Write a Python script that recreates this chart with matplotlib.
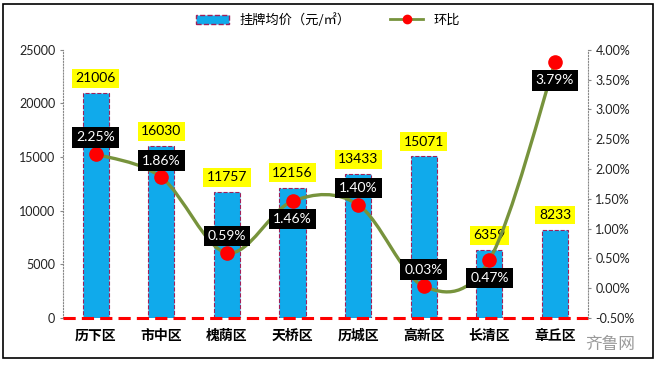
import matplotlib
matplotlib.use("Agg")
import matplotlib.pyplot as plt
from matplotlib.path import Path
from matplotlib.patches import PathPatch, Patch, Rectangle
from matplotlib.lines import Line2D
from matplotlib.ticker import FuncFormatter

plt.rcParams['font.family'] = ['Lato', 'Noto Sans CJK SC', 'DejaVu Sans']

districts = ['历下区', '市中区', '槐荫区', '天桥区', '历城区', '高新区', '长清区', '章丘区']
price = [21006, 16030, 11757, 12156, 13433, 15071, 6359, 8233]
mom = [2.25, 1.86, 0.59, 1.46, 1.40, 0.03, 0.47, 3.79]
label_up = [True, True, True, False, True, True, False, False]

bar_color = '#10AAEB'
line_color = '#77933C'

fig = plt.figure(figsize=(6.56, 3.67), dpi=100)
ax1 = fig.add_axes([0.096, 0.134, 0.800, 0.730])
ax2 = ax1.twinx()

x = list(range(len(districts)))
ax1.bar(x, price, width=0.4, color=bar_color, edgecolor='#A0205A',
        linestyle='--', linewidth=0.8, zorder=2)
ax1.set_xlim(-0.5, len(districts) - 0.5)
ax1.set_ylim(0, 25000)
ax1.set_yticks(range(0, 25001, 5000))
ax1.axhline(0, color='red', lw=2.2, ls=(0, (4, 2)), zorder=3, clip_on=False)

for xi, v in zip(x, price):
    ax1.annotate(str(v), (xi, v), xytext=(0, 10.5), textcoords='offset points',
                 ha='center', va='center', fontsize=10,
                 bbox=dict(boxstyle='square,pad=0.25', fc='#FFFF00', ec='none'))

# smooth line (Excel-style) via cubic bezier segments through the data points
verts = [(x[0], mom[0])]
codes = [Path.MOVETO]
n = len(mom)
for i in range(n - 1):
    p0 = (x[i - 1], mom[i - 1]) if i > 0 else (x[i], mom[i])
    p1 = (x[i], mom[i])
    p2 = (x[i + 1], mom[i + 1])
    p3 = (x[i + 2], mom[i + 2]) if i + 2 < n else p2
    c1 = (p1[0] + (p2[0] - p0[0]) / 6, p1[1] + (p2[1] - p0[1]) / 6)
    c2 = (p2[0] - (p3[0] - p1[0]) / 6, p2[1] - (p3[1] - p1[1]) / 6)
    verts += [c1, c2, p2]
    codes += [Path.CURVE4] * 3
ax2.add_patch(PathPatch(Path(verts, codes), fc='none', ec=line_color, lw=2.4, zorder=3))
ax2.plot(x, mom, 'o', color='red', ms=9.5, zorder=4)
ax2.set_ylim(-0.5, 4.0)
ax2.set_yticks([i * 0.5 - 0.5 for i in range(10)])
ax2.yaxis.set_major_formatter(FuncFormatter(lambda v, p: f'{v:.2f}%'))

for xi, v, up in zip(x, mom, label_up):
    ax2.annotate(f'{v:.2f}%', (xi, v), xytext=(0, 12 if up else -13),
                 textcoords='offset points', ha='center', va='center',
                 fontsize=10, color='white',
                 bbox=dict(boxstyle='square,pad=0.3', fc='black', ec='none'), zorder=5)

for ax in (ax1, ax2):
    ax.spines['top'].set_visible(False)
    ax.spines['bottom'].set_visible(False)
    ax.tick_params(axis='y', labelsize=9, length=2)
ax1.spines['right'].set_visible(False)
ax2.spines['left'].set_visible(False)
ax1.spines['left'].set_linestyle(':')
ax1.spines['left'].set_color('#888888')
ax2.spines['right'].set_linestyle(':')
ax2.spines['right'].set_color('#888888')
ax1.tick_params(axis='y', colors='#888888', labelcolor='#222222')
ax2.tick_params(axis='y', colors='#888888', labelcolor='#222222')

ax1.set_xticks(x)
ax1.set_xticklabels(districts, fontsize=10, fontweight='bold',
                    family=['Noto Sans CJK SC', 'DejaVu Sans'])
ax1.tick_params(axis='x', length=0, pad=8)

handles = [Patch(fc=bar_color, ec='#A0205A', ls='--'),
           Line2D([], [], color=line_color, lw=2, marker='o', mfc='red', mec='red', ms=6)]
fig.legend(handles, ['挂牌均价（元/㎡）', '环比'], loc='center', bbox_to_anchor=(0.5, 0.945),
           ncol=2, frameon=False, handlelength=2.5, columnspacing=3,
           prop={'family': ['Noto Sans CJK SC', 'DejaVu Sans'], 'size': 9.5})

fig.text(0.93, 0.06, '齐鲁网', fontsize=12, color='#999999', ha='center', va='center',
         family=['Noto Sans CJK SC', 'DejaVu Sans'])

fig.patches.append(Rectangle((0.005, 0.025), 0.99, 0.965, transform=fig.transFigure,
                             fill=False, ec='black', lw=1.2))

fig.savefig('out.png', dpi=100)
